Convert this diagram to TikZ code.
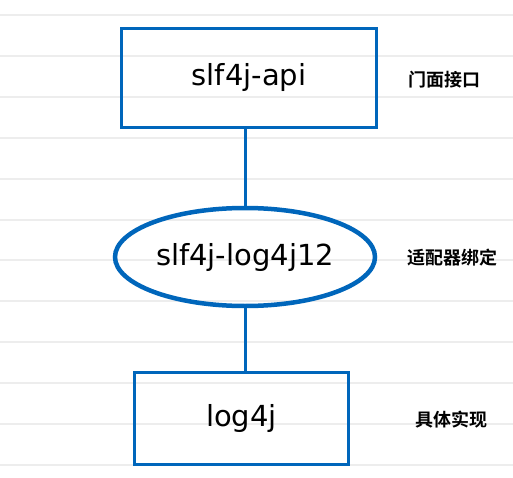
\documentclass[tikz,border=0pt]{standalone}
\usepackage{fontspec}
\setmainfont{DejaVu Sans}
\newfontfamily\cjk{Noto Sans CJK SC}[BoldFont={* Bold}]
\usepackage{xcolor}
\usetikzlibrary{shapes.geometric}
\definecolor{inkblue}{RGB}{0,102,187}
\tikzset{
	rule/.style={draw=black!7, line width=2pt},
	layer/.style={draw=inkblue, line width=3pt, rectangle, font=\fontsize{29}{30}\selectfont},
	binder/.style={draw=inkblue, line width=4.5pt, ellipse, inner sep=0pt, font=\fontsize{29}{30}\selectfont},
	link/.style={draw=inkblue, line width=3pt},
	note/.style={font=\cjk\bfseries\fontsize{18}{19}\selectfont}
}

\begin{document}
\begin{tikzpicture}[x=1pt, y=-1pt]
			\useasboundingbox (0,0) rectangle (513,478);
			\foreach \k in {0,...,11}
				\draw[rule] (0,15+40.9*\k) -- (513,15+40.9*\k);

			\node[layer, minimum width=255pt, minimum height=99pt] (api) at (249,78) {slf4j-api};
			\node[binder, minimum width=260pt, minimum height=98pt] (bind) at (245,257) {slf4j-log4j12};
			\node[layer, minimum width=214pt, minimum height=92pt] (impl) at (241.5,418.5) {log4j};

			\node[note] (apinote) at (444,80) {门面接口};
			\node[note] (bindnote) at (452,258) {适配器绑定};
			\node[note] (implnote) at (451,420) {具体实现};

			\draw[link] (bind.north) -- (bind.north |- api.south);
			\draw[link] (bind.south) -- (bind.south |- impl.north);
		\end{tikzpicture}
\end{document}
